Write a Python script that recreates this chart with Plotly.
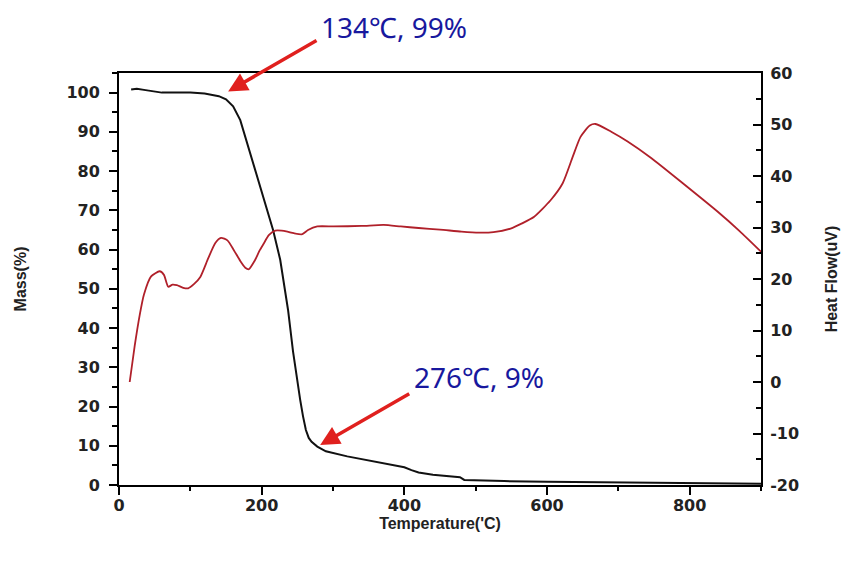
import plotly.graph_objects as go

# ---- data ----
mass_temp = [17, 25, 35, 50, 60, 80, 100, 120, 128, 140, 150, 160, 170, 180, 190, 200, 208, 216,
             226, 237, 244, 250, 254, 258, 262, 266, 270, 278, 290, 320, 350, 380, 400, 410, 420,
             440, 460, 478, 484, 500, 540, 600, 700, 800, 900]
mass_pct = [100.8, 101.0, 100.7, 100.2, 100.0, 100.0, 100.0, 99.8, 99.5, 99.1, 98.3, 96.5, 93.0,
            87.0, 80.5, 75.0, 70.0, 65.0, 57.4, 44.6, 34.0, 26.0, 21.7, 17.5, 14.0, 12.0, 11.0,
            9.8, 8.6, 7.3, 6.3, 5.3, 4.5, 3.8, 3.2, 2.6, 2.3, 2.0, 1.3, 1.2, 1.0, 0.8, 0.6, 0.4, 0.3]

hf_temp = [15, 22, 29, 35, 45, 57, 63, 69, 75, 81, 90, 97, 105, 114, 125, 135, 143, 152, 161,
           170, 177, 182, 190, 197, 203, 210, 219, 228, 236, 245, 257, 265, 278, 301, 340, 371,
           395, 420, 450, 480, 505, 525, 549, 565, 582, 605, 622, 636, 647, 660, 668, 690, 713,
           746, 793, 839, 870, 900]
hf_uv = [0, 7, 13, 17, 20.5, 21.5, 20.8, 18.5, 18.9, 18.8, 18.3, 18.2, 19.0, 20.4, 24.0, 27.0,
         28.0, 27.5, 25.6, 23.5, 22.2, 21.9, 23.5, 25.5, 26.9, 28.5, 29.4, 29.4, 29.2, 28.9, 28.7,
         29.5, 30.2, 30.2, 30.3, 30.5, 30.2, 29.9, 29.6, 29.2, 29.0, 29.1, 29.8, 30.8, 32.1, 35.3,
         38.6, 43.7, 47.6, 49.8, 50.1, 48.6, 46.7, 43.5, 38.3, 33.1, 29.3, 25.3]

x_ticks = [0, 200, 400, 600, 800]
mass_ticks = [0, 10, 20, 30, 40, 50, 60, 70, 80, 90, 100]
hf_ticks = [-20, -10, 0, 10, 20, 30, 40, 50, 60]
hf_tick_labels = ["-20", "-10", "0", "10", "20", "30", "40", "50", "60"]

X_RANGE = [0, 900]
MASS_RANGE = [0, 105]
HF_RANGE = [-20, 60]

notes = [
    dict(text="134℃, 99%", head=(153, 100.3), tail=(279, 113.5), label=(385, 116.8)),
    dict(text="276℃, 9%", head=(282, 10.2), tail=(409, 23.5), label=(504, 27.6)),
]

# ---- figure ----
fig = go.Figure()
fig.add_trace(go.Scatter(x=mass_temp, y=mass_pct, mode="lines",
                         line=dict(color="#111111", width=2), name="Mass", yaxis="y"))
fig.add_trace(go.Scatter(x=hf_temp, y=hf_uv, mode="lines",
                         line=dict(color="#b0202a", width=1.8, shape="spline", smoothing=0.6),
                         name="Heat Flow", yaxis="y2"))

tickfont = dict(family="DejaVu Sans, Arial, sans-serif", size=16, color="#222222", weight="bold")
titlefont = dict(family="Liberation Sans, Arial, sans-serif", size=16, color="#222222", weight="bold")

fig.update_layout(
    width=841, height=547,
    margin=dict(l=111, r=88, t=65, b=70),
    paper_bgcolor="white", plot_bgcolor="white",
    showlegend=False,
    xaxis=dict(range=X_RANGE, tickvals=x_ticks, showgrid=False, zeroline=False, automargin=False,
               showline=True, linecolor="black", linewidth=2, mirror=True,
               ticks="outside", ticklen=8, tickwidth=2, tickcolor="black",
               minor=dict(ticks="outside", ticklen=4, tickwidth=2, dtick=100, tickcolor="black"),
               tickfont=tickfont, ticklabelstandoff=-3,
               title=dict(text="Temperature('C)", font=titlefont, standoff=0)),
    yaxis=dict(range=MASS_RANGE, tickvals=mass_ticks, showgrid=False, zeroline=False,
               automargin=False,
               showline=True, linecolor="black", linewidth=2,
               ticks="outside", ticklen=8, tickwidth=2, tickcolor="black",
               minor=dict(ticks="outside", ticklen=5, tickwidth=2, dtick=5, tickcolor="black"),
               tickfont=tickfont, ticklabelstandoff=6,
               title=dict(text="Mass(%)", font=titlefont, standoff=36)),
    yaxis2=dict(range=HF_RANGE, tickvals=hf_ticks, ticktext=hf_tick_labels,
                overlaying="y", side="right", automargin=False,
                showgrid=False, zeroline=False,
                showline=True, linecolor="black", linewidth=2,
                ticks="inside", ticklen=8, tickwidth=2, tickcolor="black",
                minor=dict(ticks="inside", ticklen=5, tickwidth=2, dtick=5, tickcolor="black"),
                tickfont=tickfont, ticklabelstandoff=4,
                title=dict(text="Heat Flow(uV)", font=titlefont, standoff=28)),
)

for n in notes:
    fig.add_annotation(x=n["head"][0], y=n["head"][1], ax=n["tail"][0], ay=n["tail"][1],
                       xref="x", yref="y", axref="x", ayref="y", text="",
                       showarrow=True, arrowhead=2, arrowsize=1.1, arrowwidth=3.5,
                       arrowcolor="#e0201e")
    fig.add_annotation(x=(n["label"][0] - X_RANGE[0]) / (X_RANGE[1] - X_RANGE[0]),
                       y=(n["label"][1] - MASS_RANGE[0]) / (MASS_RANGE[1] - MASS_RANGE[0]),
                       xref="paper", yref="paper", xanchor="center", yanchor="middle",
                       text=n["text"], showarrow=False,
                       font=dict(family="Noto Sans, Open Sans, sans-serif", size=28,
                                 color="#18189e"))

fig.write_html("out.html")
